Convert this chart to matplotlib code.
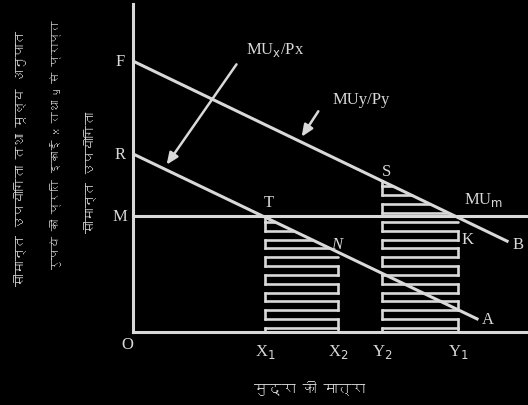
import matplotlib
matplotlib.use("Agg")
import matplotlib.pyplot as plt
from matplotlib import font_manager
from matplotlib.ft2font import FT2Font

# ---------------- data ----------------
F_val = 8.26          # intercept of MUy/Py line (F)
R_val = 5.43          # intercept of MUx/Px line (R)
M_val = 3.54          # MUm level (M)
B_end = (9.47, 2.77)  # end of line F-B
A_end = (8.71, 0.40)  # end of line R-A
x_ticks = [3.34, 5.19, 6.30, 8.23]
x_tick_labels = ["X$_1$", "X$_2$", "Y$_2$", "Y$_1$"]
y_axis_label_lines = ["सीमान्त उपयोगिता तथा मूल्य अनुपात",
                      "रुपये की प्रति इकाई x तथा y से प्राप्त",
                      "सीमान्त उपयोगिता"]
x_axis_label = "मुद्रा की मात्रा"

# ---------------- fonts ----------------
deva = None
for f in font_manager.fontManager.ttflist:
    try:
        if 0x092E in FT2Font(f.fname).get_charmap():
            deva = f.name
            break
    except Exception:
        pass
hindi_family = [deva, "DejaVu Sans"] if deva else ["DejaVu Sans"]
serif = ["Liberation Serif", "DejaVu Serif"]

FG = "#d9d9d9"
LW = 2.2
SLW = 1.9

fig = plt.figure(figsize=(5.28, 4.06), dpi=100, facecolor="black")
ax = fig.add_axes([133/528, 73/406, 395/528, 328/406], facecolor="black")
ax.set_xlim(0, 10)
ax.set_ylim(0, 10)
for s in ax.spines.values():
    s.set_visible(False)
ax.set_xticks([])
ax.set_yticks([])

# axes
ax.plot([0, 0], [0, 10], color=FG, lw=LW, clip_on=False)
ax.plot([0, 10], [0, 0], color=FG, lw=LW, clip_on=False)
# MUm horizontal line
ax.plot([0, 10], [M_val, M_val], color=FG, lw=LW, clip_on=False)

# sloping lines
slope_FB = (B_end[1] - F_val) / B_end[0]
slope_RA = (A_end[1] - R_val) / A_end[0]
ax.plot([0, B_end[0]], [F_val, B_end[1]], color=FG, lw=LW)
ax.plot([0, A_end[0]], [R_val, A_end[1]], color=FG, lw=LW)


def serpentine(xl, xr, icpt, slope, step=0.27, y0=0.12):
    ys = []
    y = y0
    while True:
        xcut = (y - icpt) / slope
        if xcut <= xl + 0.05:
            break
        ys.append(y)
        y += step
    ends = [min(xr, (yy - icpt) / slope) for yy in ys]
    for i, (yy, xe) in enumerate(zip(ys, ends)):
        ax.plot([xl, xe], [yy, yy], color=FG, lw=SLW, solid_capstyle="round")
        if i + 1 < len(ys):
            if i % 2 == 0:
                if ends[i + 1] >= xr - 1e-9:
                    ax.plot([xr, xr], [yy, ys[i + 1]], color=FG, lw=SLW)
            else:
                ax.plot([xl, xl], [yy, ys[i + 1]], color=FG, lw=SLW)
    ax.plot([xl, xl], [0, ys[0]], color=FG, lw=SLW)
    ax.plot([xr, xr], [0, ys[0]], color=FG, lw=SLW)
    ax.plot([xl, xl], [ys[-1], icpt + slope * xl], color=FG, lw=SLW)


serpentine(x_ticks[0], x_ticks[1], R_val, slope_RA)
serpentine(x_ticks[2], x_ticks[3], F_val, slope_FB)

# arrows
ax.annotate("", xy=(0.81, 5.03), xytext=(2.66, 8.23),
            arrowprops=dict(arrowstyle="-|>,head_length=0.7,head_width=0.3",
                            color=FG, lw=1.8))
ax.annotate("", xy=(4.23, 5.88), xytext=(4.73, 6.80),
            arrowprops=dict(arrowstyle="-|>,head_length=0.7,head_width=0.3",
                            color=FG, lw=1.8))

tk = dict(color=FG, family=serif, fontsize=12, ha="center", va="center",
          clip_on=False)
ax.text(-0.32, F_val, "F", **tk)
ax.text(-0.32, R_val, "R", **tk)
ax.text(-0.32, M_val, "M", **tk)
ax.text(-0.15, -0.37, "O", **tk)
for xv, lab in zip(x_ticks, x_tick_labels):
    ax.text(xv, -0.58, lab, **tk)
ax.text(3.44, 3.96, "T", **tk)
ax.text(5.16, 2.68, "N", style="italic", **tk)
ax.text(6.43, 4.91, "S", **tk)
ax.text(8.48, 2.84, "K", **tk)
ax.text(8.89, 4.05, "MU$_{\\rm m}$", **tk)
ax.text(9.75, 2.68, "B", **tk)
ax.text(8.99, 0.40, "A", **tk)
ax.text(3.6, 8.63, "MU$_{\\rm x}$/Px", **tk)
ax.text(5.77, 7.10, "MUy/Py", **tk)

# Hindi axis labels
hk = dict(color=FG, family=hindi_family, rotation=90, fontweight="bold",
          ha="center", va="center")
fig.text(20/528, 1 - 158/406, y_axis_label_lines[0], fontsize=9.2, **hk)
fig.text(55/528, 1 - 145/406, y_axis_label_lines[1], fontsize=8.2, **hk)
fig.text(90/528, 1 - 172/406, y_axis_label_lines[2], fontsize=9.2, **hk)
fig.text(310/528, 1 - 388/406, x_axis_label, color=FG, family=hindi_family,
         fontweight="bold", fontsize=10, ha="center", va="center")

fig.savefig("out.png", dpi=100, facecolor="black")
